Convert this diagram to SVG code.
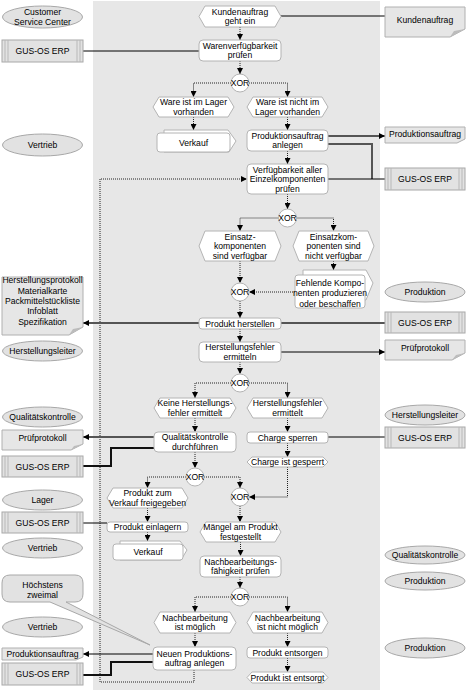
<svg xmlns="http://www.w3.org/2000/svg" width="466" height="691" viewBox="0 0 466 691">
<defs>
<style>
text{font-family:"Liberation Sans Narrow","Liberation Sans",Arial,sans-serif;font-size:8.6px;fill:#000;text-anchor:middle;font-stretch:condensed}
.ev{fill:#fff;stroke:#b4b4b4;stroke-width:1}
.fn{fill:#fff;stroke:#b4b4b4;stroke-width:1}
.pi{fill:#fff;stroke:#b4b4b4;stroke-width:1}
.xor{fill:#fff;stroke:#b4b4b4;stroke-width:1}
.org{fill:#e2e2e2;stroke:#a8a8a8;stroke-width:1}
.doc{fill:#e6e6e6;stroke:#b0b0b0;stroke-width:1}
.fold{fill:#bcbcbc;stroke:none}
.sys{fill:#e2e2e2;stroke:#a8a8a8;stroke-width:1}
.sysl{stroke:#b8b8b8;stroke-width:1;fill:none}
.flow{fill:none;stroke:#222;stroke-width:1;stroke-dasharray:1 1}
.thin{fill:none;stroke:#000;stroke-width:1}
.thick{fill:none;stroke:#555;stroke-width:2}
.thickb{fill:none;stroke:#111;stroke-width:2}
.note{fill:#e2e2e2;stroke:#a8a8a8;stroke-width:1}
</style>
<marker id="ah" viewBox="0 0 8 8" refX="8" refY="4" markerWidth="6" markerHeight="6" markerUnits="userSpaceOnUse" orient="auto">
<path d="M0,0 L8,4 L0,8 z" fill="#000"/>
</marker>
</defs>
<rect x="93" y="1" width="287" height="689" fill="#e7e7e7"/>

<g id="connectors">
<path class="flow" d="M240,27 V40" marker-end="url(#ah)"/>
<path class="flow" d="M240,61 V74" marker-end="url(#ah)"/>
<path class="flow" d="M231,83 H193.5 V97" marker-end="url(#ah)"/>
<path class="flow" d="M249,83 H287.5 V97" marker-end="url(#ah)"/>
<path class="flow" d="M193.5,117 V130" marker-end="url(#ah)"/>
<path class="flow" d="M287.5,117 V130" marker-end="url(#ah)"/>
<path class="flow" d="M287.5,151 V164" marker-end="url(#ah)"/>
<path class="flow" d="M194,670 V682 H100 V179 H247" marker-end="url(#ah)"/>
<path class="flow" d="M287.5,194 V209" marker-end="url(#ah)"/>
<path class="flow" d="M278.5,218 H240 V231" marker-end="url(#ah)"/>
<path class="flow" d="M296.5,218 H333.5 V231" marker-end="url(#ah)"/>
<path class="flow" d="M240,261 V283" marker-end="url(#ah)"/>
<path class="flow" d="M333.5,261 V270" marker-end="url(#ah)"/>
<path class="flow" d="M295,292 H249" marker-end="url(#ah)"/>
<path class="flow" d="M240,301 V318" marker-end="url(#ah)"/>
<path class="flow" d="M240,329 V342" marker-end="url(#ah)"/>
<path class="flow" d="M240,362 V374" marker-end="url(#ah)"/>
<path class="flow" d="M231,383 H195 V398" marker-end="url(#ah)"/>
<path class="flow" d="M249,383 H287.5 V398" marker-end="url(#ah)"/>
<path class="flow" d="M195,418 V432" marker-end="url(#ah)"/>
<path class="flow" d="M287.5,418 V432" marker-end="url(#ah)"/>
<path class="flow" d="M195,452 V468" marker-end="url(#ah)"/>
<path class="flow" d="M287.5,443 V457" marker-end="url(#ah)"/>
<path class="flow" d="M186,477 H147.5 V488" marker-end="url(#ah)"/>
<path class="flow" d="M204,477 H240 V488" marker-end="url(#ah)"/>
<path class="flow" d="M287.5,467 V497 H249" marker-end="url(#ah)"/>
<path class="flow" d="M147.5,508 V522" marker-end="url(#ah)"/>
<path class="flow" d="M240,506 V522" marker-end="url(#ah)"/>
<path class="flow" d="M147.5,532 V541" marker-end="url(#ah)"/>
<path class="flow" d="M240.5,542 V556" marker-end="url(#ah)"/>
<path class="flow" d="M240,577 V588" marker-end="url(#ah)"/>
<path class="flow" d="M231,597 H195 V612" marker-end="url(#ah)"/>
<path class="flow" d="M249,597 H287.5 V612" marker-end="url(#ah)"/>
<path class="flow" d="M195,633 V647" marker-end="url(#ah)"/>
<path class="flow" d="M287.5,633 V647" marker-end="url(#ah)"/>
<path class="flow" d="M287.5,658 V672" marker-end="url(#ah)"/>
<path class="thin" d="M281,16 H385"/>
<path class="thin" d="M83,51 H199"/>
<path class="thick" d="M328,136 H385" marker-end="url(#ah)"/>
<path class="thick" d="M328,144 H372 V179"/>
<path class="thin" d="M328,179 H385"/>
<path class="thick" d="M199,323 H83" marker-end="url(#ah)"/>
<path class="thick" d="M281,323 H385"/>
<path class="thin" d="M281,352 H385" marker-end="url(#ah)"/>
<path class="thick" d="M154,437 H83" marker-end="url(#ah)"/>
<path class="thickb" d="M83,466 H111 V448 H154"/>
<path class="thin" d="M328,437 H385"/>
<path class="thin" d="M83,523 H107"/>
<path class="thin" d="M153,654 H83" marker-end="url(#ah)"/>
<path class="thickb" d="M83,675 H111 V662 H153"/>
</g>

<g id="n_kundenauftrag_geht_ein"><polygon class="ev" points="199,16.5 205,6 275,6 281,16.5 275,27 205,27"/><text x="240" y="14.9">Kundenauftrag</text><text x="240" y="24.4">geht ein</text></g>
<g id="n_warenverfuegbarkeit"><rect class="fn" x="199" y="40" width="82" height="21" rx="4"/><text x="240" y="48.9">Warenverfügbarkeit</text><text x="240" y="58.4">prüfen</text></g>
<g id="n_xor1"><circle class="xor" cx="240" cy="83" r="9"/><text x="240" y="86.2">XOR</text></g>
<g id="n_ware_im_lager"><polygon class="ev" points="153,107 159,97 228,97 234,107 228,117 159,117"/><text x="193.5" y="105.4">Ware ist im Lager</text><text x="193.5" y="114.9">vorhanden</text></g>
<g id="n_ware_nicht_im_lager"><polygon class="ev" points="247,107 253,97 322,97 328,107 322,117 253,117"/><text x="287.5" y="105.4">Ware ist nicht im</text><text x="287.5" y="114.9">Lager vorhanden</text></g>
<g id="n_verkauf1"><polygon class="pi" points="164,130 228,130 236,141 229,152 164,152"/><rect class="pi" x="157" y="133" width="73" height="19" rx="3"/><text x="193.5" y="145.7">Verkauf</text></g>
<g id="n_produktionsauftrag_anlegen"><rect class="fn" x="247" y="130" width="81" height="21" rx="4"/><text x="287.5" y="138.9">Produktionsauftrag</text><text x="287.5" y="148.4">anlegen</text></g>
<g id="n_verfuegbarkeit_komponenten"><rect class="fn" x="247" y="164" width="81" height="30" rx="4"/><text x="287.5" y="172.7">Verfügbarkeit aller</text><text x="287.5" y="182.2">Einzelkomponenten</text><text x="287.5" y="191.7">prüfen</text></g>
<g id="n_xor2"><circle class="xor" cx="287.5" cy="218" r="9"/><text x="287.5" y="221.2">XOR</text></g>
<g id="n_komp_verfuegbar"><polygon class="ev" points="199,246 205,231 275,231 281,246 275,261 205,261"/><text x="240" y="239.7">Einsatz-</text><text x="240" y="249.2">komponenten</text><text x="240" y="258.7">sind verfügbar</text></g>
<g id="n_komp_nicht_verfuegbar"><polygon class="ev" points="293,246 299,231 368,231 374,246 368,261 299,261"/><text x="333.5" y="239.7">Einsatzkom-</text><text x="333.5" y="249.2">ponenten sind</text><text x="333.5" y="258.7">nicht verfügbar</text></g>
<g id="n_fehlende_komponenten"><polygon class="pi" points="303,270 366,270 373,283 366,300 303,300"/><rect class="pi" x="295" y="275" width="70" height="33" rx="3"/><text x="330" y="285.7">Fehlende Kompo-</text><text x="330" y="296.2">nenten produzieren</text><text x="330" y="306.7">oder beschaffen</text></g>
<g id="n_xor3"><circle class="xor" cx="240" cy="292" r="9"/><text x="240" y="295.2">XOR</text></g>
<g id="n_produkt_herstellen"><rect class="fn" x="199" y="318" width="82" height="11" rx="3"/><text x="240" y="326.7">Produkt herstellen</text></g>
<g id="n_herstellungsfehler_ermitteln"><rect class="fn" x="199" y="342" width="82" height="20" rx="4"/><text x="240" y="350.4">Herstellungsfehler</text><text x="240" y="359.9">ermitteln</text></g>
<g id="n_xor4"><circle class="xor" cx="240" cy="383" r="9"/><text x="240" y="386.2">XOR</text></g>
<g id="n_keine_fehler"><polygon class="ev" points="154,408 160,398 230,398 236,408 230,418 160,418"/><text x="195" y="406.4">Keine Herstellungs-</text><text x="195" y="415.9">fehler ermittelt</text></g>
<g id="n_fehler_ermittelt"><polygon class="ev" points="247,408 253,398 322,398 328,408 322,418 253,418"/><text x="287.5" y="406.4">Herstellungsfehler</text><text x="287.5" y="415.9">ermittelt</text></g>
<g id="n_qualitaetskontrolle_durchfuehren"><rect class="fn" x="154" y="432" width="82" height="20" rx="4"/><text x="195" y="440.4">Qualitätskontrolle</text><text x="195" y="449.9">durchführen</text></g>
<g id="n_charge_sperren"><rect class="fn" x="247" y="432" width="81" height="11" rx="3"/><text x="287.5" y="440.7">Charge sperren</text></g>
<g id="n_charge_gesperrt"><polygon class="ev" points="247,462 252,457 323,457 328,462 323,467 252,467"/><text x="287.5" y="465.2">Charge ist gesperrt</text></g>
<g id="n_xor5"><circle class="xor" cx="195" cy="477" r="9"/><text x="195" y="480.2">XOR</text></g>
<g id="n_freigegeben"><polygon class="ev" points="107,498 113,488 182,488 188,498 182,508 113,508"/><text x="147.5" y="496.4">Produkt zum</text><text x="147.5" y="505.9">Verkauf freigegeben</text></g>
<g id="n_xor6"><circle class="xor" cx="240" cy="497" r="9"/><text x="240" y="500.2">XOR</text></g>
<g id="n_produkt_einlagern"><rect class="fn" x="107" y="522" width="81" height="10" rx="3"/><text x="147.5" y="530.2">Produkt einlagern</text></g>
<g id="n_maengel"><polygon class="ev" points="200,532 206,522 275,522 281,532 275,542 206,542"/><text x="240.5" y="530.4">Mängel am Produkt</text><text x="240.5" y="539.9">festgestellt</text></g>
<g id="n_verkauf2"><polygon class="pi" points="120,541 180,541 187,550 181,560 120,560"/><rect class="pi" x="113" y="544" width="70" height="16" rx="3"/><text x="148" y="555.2">Verkauf</text></g>
<g id="n_nachbearbeitung_pruefen"><rect class="fn" x="200" y="556" width="81" height="21" rx="4"/><text x="240.5" y="564.9">Nachbearbeitungs-</text><text x="240.5" y="574.4">fähigkeit prüfen</text></g>
<g id="n_xor7"><circle class="xor" cx="240" cy="597" r="9"/><text x="240" y="600.2">XOR</text></g>
<g id="n_nb_moeglich"><polygon class="ev" points="154,622.5 160,612 230,612 236,622.5 230,633 160,633"/><text x="195" y="620.9">Nachbearbeitung</text><text x="195" y="630.4">ist möglich</text></g>
<g id="n_nb_nicht_moeglich"><polygon class="ev" points="247,622.5 253,612 322,612 328,622.5 322,633 253,633"/><text x="287.5" y="620.9">Nachbearbeitung</text><text x="287.5" y="630.4">ist nicht möglich</text></g>
<g id="n_neuen_produktionsauftrag"><rect class="fn" x="153" y="647" width="83" height="23" rx="4"/><text x="194.5" y="656.9">Neuen Produktions-</text><text x="194.5" y="666.4">auftrag anlegen</text></g>
<g id="n_produkt_entsorgen"><rect class="fn" x="247" y="647" width="81" height="11" rx="3"/><text x="287.5" y="655.7">Produkt entsorgen</text></g>
<g id="n_produkt_entsorgt"><polygon class="ev" points="247,677.5 252,672 323,672 328,677.5 323,683 252,683"/><text x="287.5" y="680.7">Produkt ist entsorgt</text></g>

<g id="l_customer_service"><ellipse class="org" cx="42.5" cy="17" rx="40" ry="11"/><text x="42.5" y="15.4">Customer</text><text x="42.5" y="24.9">Service Center</text></g>
<g id="l_gus1"><rect class="sys" x="2" y="40" width="81" height="22"/><path class="sysl" d="M5,40 V62 M8,40 V62 M77,40 V62 M80,40 V62"/><text x="42.5" y="54.2">GUS-OS ERP</text></g>
<g id="l_vertrieb1"><ellipse class="org" cx="42.5" cy="145" rx="40" ry="11"/><text x="42.5" y="148.2">Vertrieb</text></g>
<g id="l_doc_herstellung"><path class="doc" d="M2,277 H83 V327 L69,335 H2 Z"/><path class="fold" d="M83,327 L69,335 L73,329 Z"/><text x="42.5" y="283.2">Herstellungsprotokoll</text><text x="42.5" y="293.6">Materialkarte</text><text x="42.5" y="304">Packmittelstückliste</text><text x="42.5" y="314.4">Infoblatt</text><text x="42.5" y="324.8">Spezifikation</text></g>
<g id="l_herstellungsleiter"><ellipse class="org" cx="42.5" cy="351" rx="40" ry="10"/><text x="42.5" y="354.2">Herstellungsleiter</text></g>
<g id="l_qualitaetskontrolle"><ellipse class="org" cx="42.5" cy="417" rx="40" ry="10"/><text x="42.5" y="420.2">Qualitätskontrolle</text></g>
<g id="l_pruefprotokoll"><path class="doc" d="M2,430 H83 V444 L71,450 H2 Z"/><path class="fold" d="M83,444 L71,450 L74,446 Z"/><text x="42.5" y="441">Prüfprotokoll</text></g>
<g id="l_gus2"><rect class="sys" x="2" y="456" width="81" height="21"/><path class="sysl" d="M5,456 V477 M8,456 V477 M77,456 V477 M80,456 V477"/><text x="42.5" y="469.7">GUS-OS ERP</text></g>
<g id="l_lager"><ellipse class="org" cx="42.5" cy="500" rx="40" ry="10"/><text x="42.5" y="503.2">Lager</text></g>
<g id="l_gus3"><rect class="sys" x="2" y="512" width="81" height="21"/><path class="sysl" d="M5,512 V533 M8,512 V533 M77,512 V533 M80,512 V533"/><text x="42.5" y="525.7">GUS-OS ERP</text></g>
<g id="l_vertrieb2"><ellipse class="org" cx="42.5" cy="548" rx="40" ry="10"/><text x="42.5" y="551.2">Vertrieb</text></g>
<g id="l_hoechstens"><path class="note" d="M10,575 H75 Q83,575 83,583 V594 Q83,602 75,602 H66 L150,645 L50,602 H10 Q2,602 2,594 V583 Q2,575 10,575 Z"/><text x="42.5" y="588">Höchstens</text><text x="42.5" y="598">zweimal</text></g>
<g id="l_vertrieb3"><ellipse class="org" cx="42.5" cy="627" rx="40" ry="10"/><text x="42.5" y="630.2">Vertrieb</text></g>
<g id="l_produktionsauftrag"><path class="doc" d="M2,648 H83 V657 L76,660 H2 Z"/><text x="42.5" y="657">Produktionsauftrag</text></g>
<g id="l_gus4"><rect class="sys" x="2" y="663" width="81" height="22"/><path class="sysl" d="M5,663 V685 M8,663 V685 M77,663 V685 M80,663 V685"/><text x="42.5" y="677.2">GUS-OS ERP</text></g>

<g id="r_kundenauftrag"><path class="doc" d="M385,7 H465 V29 L450,37 H385 Z"/><path class="fold" d="M465,29 L450,37 L454,31 Z"/><text x="425" y="22.5">Kundenauftrag</text></g>
<g id="r_produktionsauftrag"><path class="doc" d="M385,127 H465 V139 L457,143 H385 Z"/><text x="425" y="137">Produktionsauftrag</text></g>
<g id="r_gus1"><rect class="sys" x="385" y="168" width="80" height="22"/><path class="sysl" d="M388,168 V190 M391,168 V190 M459,168 V190 M462,168 V190"/><text x="425" y="182.2">GUS-OS ERP</text></g>
<g id="r_produktion1"><ellipse class="org" cx="425" cy="292" rx="40" ry="10"/><text x="425" y="295.2">Produktion</text></g>
<g id="r_gus2"><rect class="sys" x="385" y="312" width="80" height="21"/><path class="sysl" d="M388,312 V333 M391,312 V333 M459,312 V333 M462,312 V333"/><text x="425" y="325.7">GUS-OS ERP</text></g>
<g id="r_pruefprotokoll"><path class="doc" d="M385,340 H465 V353 L452,360 H385 Z"/><path class="fold" d="M465,353 L452,360 L456,355 Z"/><text x="425" y="351">Prüfprotokoll</text></g>
<g id="r_herstellungsleiter"><ellipse class="org" cx="425" cy="415" rx="40" ry="10"/><text x="425" y="418.2">Herstellungsleiter</text></g>
<g id="r_gus3"><rect class="sys" x="385" y="427" width="80" height="21"/><path class="sysl" d="M388,427 V448 M391,427 V448 M459,427 V448 M462,427 V448"/><text x="425" y="440.7">GUS-OS ERP</text></g>
<g id="r_qualitaetskontrolle"><ellipse class="org" cx="425" cy="555" rx="40" ry="9"/><text x="425" y="558.2">Qualitätskontrolle</text></g>
<g id="r_produktion2"><ellipse class="org" cx="425" cy="581" rx="40" ry="9"/><text x="425" y="584.2">Produktion</text></g>
<g id="r_produktion3"><ellipse class="org" cx="425" cy="648" rx="40" ry="10"/><text x="425" y="651.2">Produktion</text></g>
</svg>
